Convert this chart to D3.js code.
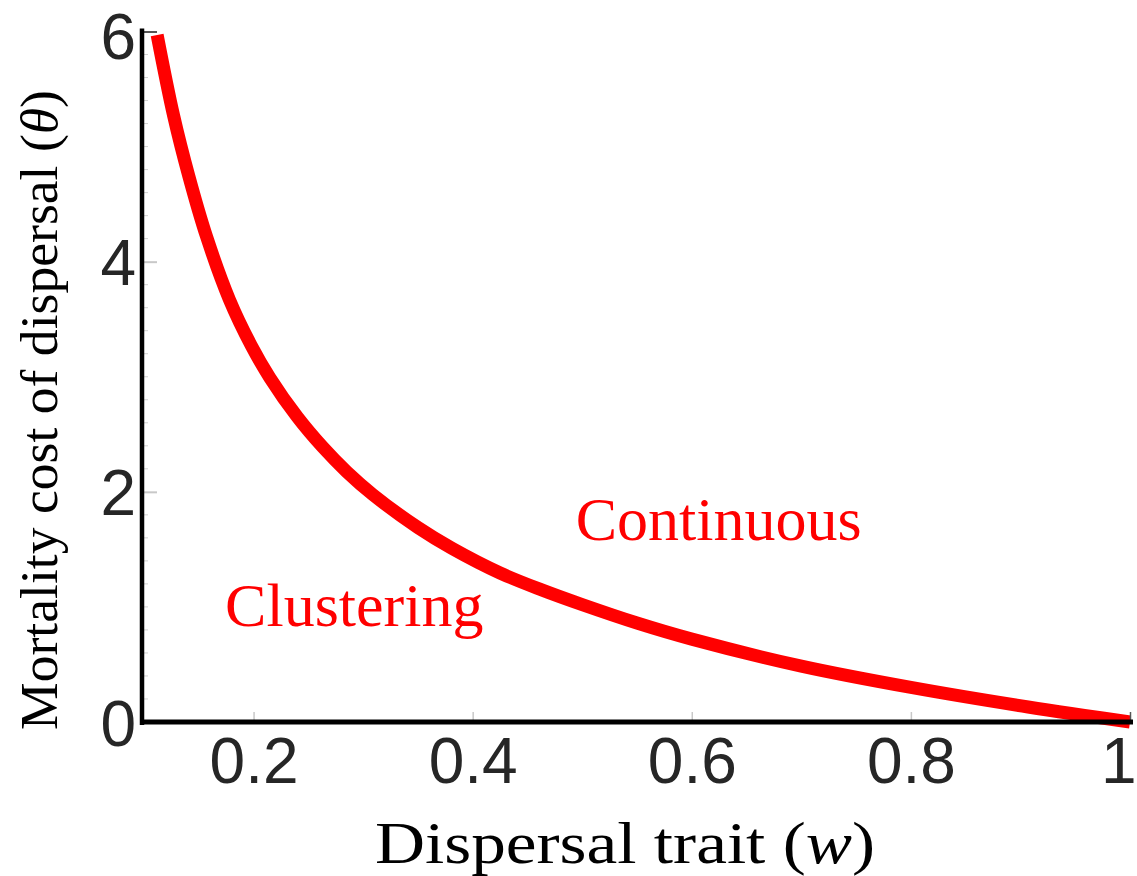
<!DOCTYPE html>
<html>
<head>
<meta charset="utf-8">
<script src="https://cdn.jsdelivr.net/npm/d3@7"></script>
<style>
  html, body { margin: 0; padding: 0; background: #ffffff; }
  svg { display: block; }
</style>
</head>
<body>
<svg id="chart" width="1137" height="876"></svg>
<script>
// ---- data ----
const dispersalTrait = [0.112, 0.127, 0.141, 0.157, 0.178, 0.198, 0.215, 0.24, 0.263, 0.285, 0.309, 0.35, 0.381, 0.425, 0.463, 0.5, 0.55, 0.6, 0.7, 0.8, 0.907, 1.0];
const mortalityCost  = [5.97, 5.27, 4.74, 4.22, 3.67, 3.27, 2.99, 2.65, 2.39, 2.175, 1.975, 1.69, 1.51, 1.295, 1.148, 1.02, 0.86, 0.72, 0.485, 0.30, 0.13, 0.0];
const xTicks = [0.2, 0.4, 0.6, 0.8, 1];
const xTickLabels = ["0.2", "0.4", "0.6", "0.8", "1"];
const yTicks = [0, 2, 4, 6];
const yTickLabels = ["0", "2", "4", "6"];
const xDomain = [0.1, 1];
const yDomain = [0, 6];
const regionLabels = ["Clustering", "Continuous"];
const regionAnchors = [[0.174, 0.83], [0.494, 1.58]]; // [w, theta] of text start/baseline

const svg = d3.select("#chart");
svg.append("rect").attr("width", 1137).attr("height", 876).attr("fill", "#ffffff");

const x = d3.scaleLinear().domain(xDomain).range([144, 1130]);
const y = d3.scaleLinear().domain(yDomain).range([722, 31.5]);

const data = dispersalTrait.map((w, i) => ({ w, t: mortalityCost[i] }));

// minor ticks on y
const minorY = d3.range(0, 6.001, 0.2).filter(v => Math.abs(v % 2) > 1e-6 && Math.abs(v % 2 - 2) > 1e-6);
svg.append("g").selectAll("line").data(minorY).join("line")
  .attr("x1", x(0.1)).attr("x2", x(0.1) + 4)
  .attr("y1", d => y(d)).attr("y2", d => y(d))
  .attr("stroke", "#d0d0d0").attr("stroke-width", 1);

// curve
const line = d3.line().x(d => x(d.w)).y(d => y(d.t)).curve(d3.curveCatmullRom.alpha(0.5));
svg.append("path").datum(data)
  .attr("d", line)
  .attr("fill", "none")
  .attr("stroke", "#ff0000")
  .attr("stroke-width", 13)
  .attr("stroke-linecap", "butt");

// x axis
const xAxis = d3.axisBottom(x).tickValues(xTicks)
  .tickFormat((d, i) => xTickLabels[i])
  .tickSizeInner(-10).tickSizeOuter(0).tickPadding(0);
const gx = svg.append("g").attr("transform", `translate(0,${y(0)})`).call(xAxis);
gx.select(".domain").remove();
gx.selectAll(".tick line").attr("stroke", (d) => d === 1 ? "#555" : "#c8c8c8").attr("stroke-width", 1.5);
gx.selectAll(".tick text")
  .attr("y", 61).attr("dy", null)
  .attr("x", (d) => d === 1 ? 6 : 0)
  .attr("text-anchor", (d) => d === 1 ? "end" : "middle")
  .attr("fill", "#262626")
  .style("font-family", "'Liberation Sans', Arial, sans-serif")
  .style("font-size", "64px");

// y axis
const yAxis = d3.axisLeft(y).tickValues(yTicks)
  .tickFormat((d, i) => yTickLabels[i])
  .tickSizeInner(-13).tickSizeOuter(0).tickPadding(0);
const gy = svg.append("g").attr("transform", `translate(${x(0.1)},0)`).call(yAxis);
gy.select(".domain").remove();
gy.selectAll(".tick line").attr("stroke", (d) => d === 6 ? "#555" : "#c8c8c8").attr("stroke-width", 2);
gy.selectAll(".tick text")
  .attr("x", -8).attr("dy", (d) => d === 6 ? "0.42em" : "0.36em")
  .attr("fill", "#262626")
  .style("font-family", "'Liberation Sans', Arial, sans-serif")
  .style("font-size", "64px");

// thick axis lines
svg.append("line")
  .attr("x1", x(0.1) - 2).attr("x2", x(0.1) - 2)
  .attr("y1", y(6) - 3).attr("y2", y(0) + 3)
  .attr("stroke", "#000").attr("stroke-width", 4.5);
svg.append("line")
  .attr("x1", x(0.1) - 4).attr("x2", x(1) + 3)
  .attr("y1", y(0)).attr("y2", y(0))
  .attr("stroke", "#000").attr("stroke-width", 5);

// region labels
svg.append("g").selectAll("text").data(regionLabels).join("text")
  .attr("x", (d, i) => x(regionAnchors[i][0]))
  .attr("y", (d, i) => y(regionAnchors[i][1]))
  .attr("fill", "#ff0000")
  .style("font-family", "'Liberation Serif', 'Times New Roman', serif")
  .style("font-size", "62px")
  .text(d => d);

// x title
const xt = svg.append("text")
  .attr("x", 375).attr("y", 863)
  .attr("textLength", 500).attr("lengthAdjust", "spacingAndGlyphs")
  .attr("fill", "#000")
  .style("font-family", "'Liberation Serif', 'Times New Roman', serif")
  .style("font-size", "60px");
xt.append("tspan").text("Dispersal trait (");
xt.append("tspan").style("font-style", "italic").text("w");
xt.append("tspan").text(")");

// y title
const yt = svg.append("text")
  .attr("transform", "translate(57,410) rotate(-90)")
  .attr("text-anchor", "middle")
  .attr("textLength", 640).attr("lengthAdjust", "spacingAndGlyphs")
  .attr("fill", "#000")
  .style("font-family", "'Liberation Serif', 'Times New Roman', serif")
  .style("font-size", "52px");
yt.append("tspan").text("Mortality cost of dispersal (");
yt.append("tspan").style("font-style", "italic").text("θ");
yt.append("tspan").text(")");
</script>
</body>
</html>
